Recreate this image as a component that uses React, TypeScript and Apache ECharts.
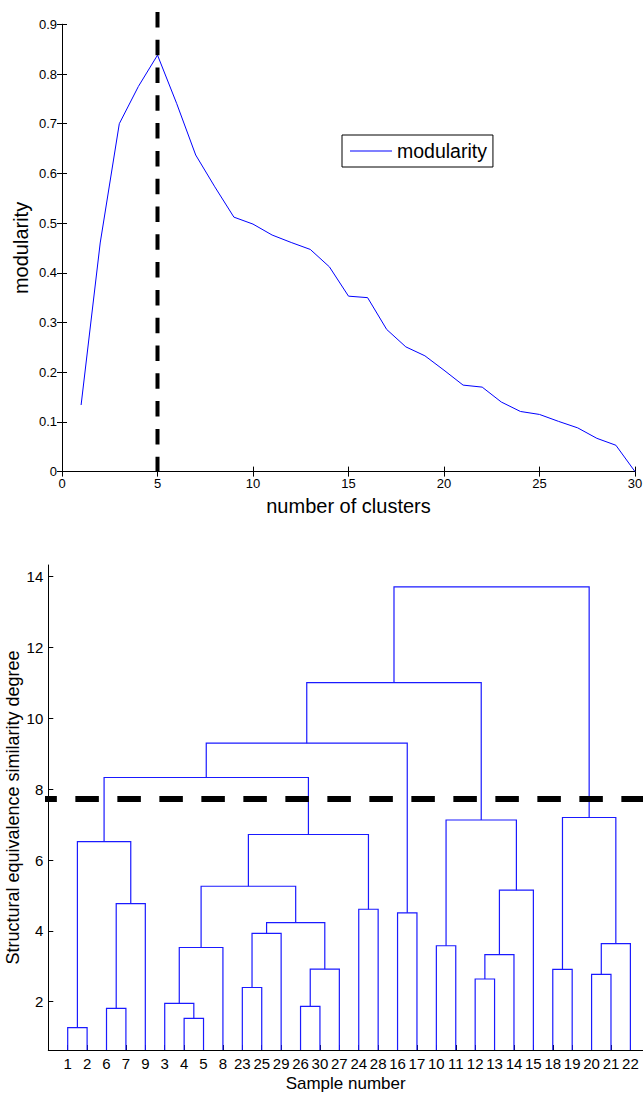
import React, { useEffect, useRef } from "react";
import * as echarts from "echarts";

const FONT = "'Liberation Sans', Arial, Helvetica, sans-serif";

// ---- Top chart: modularity vs number of clusters ----
const CLUSTER_COUNTS = [
  1, 2, 3, 4, 5, 6, 7, 8, 9, 10, 11, 12, 13, 14, 15, 16, 17, 18, 19, 20, 21,
  22, 23, 24, 25, 26, 27, 28, 29, 30,
];
const MODULARITY = [
  0.134, 0.46, 0.7, 0.775, 0.838, 0.741, 0.637, 0.573, 0.512, 0.498, 0.476,
  0.461, 0.447, 0.412, 0.353, 0.35, 0.286, 0.251, 0.233, 0.204, 0.174, 0.17,
  0.14, 0.121, 0.115, 0.101, 0.088, 0.067, 0.053, 0.0,
];
const BEST_CLUSTER_COUNT = 5;
const TOP_X_TICKS = [0, 5, 10, 15, 20, 25, 30];

// ---- Bottom chart: dendrogram ----
const SAMPLE_ORDER = [
  1, 2, 6, 7, 9, 3, 4, 5, 8, 23, 25, 29, 26, 30, 27, 24, 28, 16, 17, 10, 11,
  12, 13, 14, 15, 18, 19, 20, 21, 22,
];
// linkage rows: node id = 30 + row number (1-based)
const MERGE_LEFT = [
  1, 6, 32, 31, 4, 3, 36, 23, 38, 26, 40, 39, 37, 24, 43, 34, 16, 46, 10, 12,
  50, 51, 49, 48, 18, 20, 56, 55, 54,
];
const MERGE_RIGHT = [
  2, 7, 9, 33, 5, 35, 8, 25, 29, 30, 27, 41, 42, 28, 44, 45, 17, 47, 11, 13,
  14, 15, 52, 53, 19, 21, 22, 57, 58,
];
const MERGE_HEIGHT = [
  1.27, 1.81, 4.77, 6.52, 1.53, 1.95, 3.53, 2.4, 3.93, 1.87, 2.92, 4.23, 5.26,
  4.61, 6.72, 8.33, 4.51, 9.3, 3.58, 2.64, 3.33, 5.15, 7.13, 11.01, 2.91, 2.77,
  3.64, 7.2, 13.71,
];
const CUT_LEVEL = 7.72;
const DEND_Y_TICKS = [2, 4, 6, 8, 10, 12, 14];
const DEND_Y_MIN = 0.636;
const DEND_Y_MAX = 14.33;

const N_LEAVES = SAMPLE_ORDER.length;

function buildLinks(): number[][] {
  const pos = (id: number): [number, number] => {
    if (id <= N_LEAVES) return [SAMPLE_ORDER.indexOf(id) + 1, DEND_Y_MIN];
    const r = id - N_LEAVES - 1;
    const a = pos(MERGE_LEFT[r]);
    const b = pos(MERGE_RIGHT[r]);
    return [(a[0] + b[0]) / 2, MERGE_HEIGHT[r]];
  };
  return MERGE_HEIGHT.map((h, r) => {
    const a = pos(MERGE_LEFT[r]);
    const b = pos(MERGE_RIGHT[r]);
    return [a[0], a[1], b[0], b[1], h];
  });
}

export default function App() {
  const ref = useRef<HTMLDivElement>(null);

  useEffect(() => {
    if (!ref.current) return;
    const chart = echarts.init(ref.current, undefined, { renderer: "svg" });
    const links = buildLinks();
    const leafPositions = SAMPLE_ORDER.map((_, i) => i + 1);

    const boxAxis = {
      axisLine: { show: true, lineStyle: { color: "#000", width: 1 } },
      axisTick: { show: true, inside: true, length: 5, lineStyle: { color: "#000" } },
      splitLine: { show: false },
    };

    const option: any = {
      animation: false,
      backgroundColor: "#fff",
      textStyle: { fontFamily: FONT },
      grid: [
        { left: 62, top: 24.3, width: 573, height: 447.3, outerBoundsMode: "none", containLabel: false },
        { left: 48.3, top: 565, width: 594.7, height: 485, outerBoundsMode: "none", containLabel: false },
      ],
      legend: {
        data: [{ name: "modularity", icon: "rect" }],
        left: 342,
        top: 135,
        orient: "vertical",
        padding: [6, 6, 6, 8],
        borderColor: "#000",
        borderWidth: 1,
        itemWidth: 42,
        itemHeight: 1.2,
        backgroundColor: "#fff",
        itemStyle: { color: "#0000ff" },
        textStyle: { fontFamily: FONT, fontSize: 19.5, color: "#000" },
      },
      xAxis: [
        {
          gridIndex: 0,
          type: "value",
          position: "bottom",
          min: 0,
          max: 30,
          interval: 5,
          ...boxAxis,
          axisLabel: {
            show: true,
            margin: 5,
            fontSize: 13,
            color: "#000",
            showMinLabel: true,
            showMaxLabel: true,
            customValues: TOP_X_TICKS,
          },
          name: "number of clusters",
          nameLocation: "middle",
          nameGap: 24,
          nameMoveOverlap: false,
          nameTextStyle: { fontSize: 20, color: "#000", fontFamily: FONT },
        },
        {
          gridIndex: 0,
          type: "value",
          position: "top",
          min: 0,
          max: 30,
          interval: 5,
          ...boxAxis,
          axisLabel: { show: false },
        },
        {
          gridIndex: 1,
          type: "value",
          position: "bottom",
          min: 0,
          max: 30.65,
          axisLine: { show: true, onZero: false, lineStyle: { color: "#000", width: 1 } },
          axisTick: {
            show: true,
            inside: true,
            length: 5,
            customValues: leafPositions,
            lineStyle: { color: "#000" },
          },
          splitLine: { show: false },
          axisLabel: {
            show: true,
            margin: 6,
            fontSize: 15,
            color: "#000",
            customValues: leafPositions,
            formatter: (v: number) => String(SAMPLE_ORDER[Math.round(v) - 1]),
          },
          name: "Sample number",
          nameLocation: "middle",
          nameGap: 25,
          nameMoveOverlap: false,
          nameTextStyle: { fontSize: 17, color: "#000", fontFamily: FONT },
        },
      ],
      yAxis: [
        {
          gridIndex: 0,
          type: "value",
          position: "left",
          min: 0,
          max: 0.9,
          interval: 0.1,
          ...boxAxis,
          axisLabel: {
            show: true,
            margin: 5,
            fontSize: 13,
            color: "#000",
            showMinLabel: true,
            showMaxLabel: true,
            formatter: (v: number) => String(Math.round(v * 10) / 10),
          },
          name: "modularity",
          nameLocation: "middle",
          nameGap: 31,
          nameMoveOverlap: false,
          nameTextStyle: { fontSize: 20, color: "#000", fontFamily: FONT },
        },
        {
          gridIndex: 0,
          type: "value",
          position: "right",
          min: 0,
          max: 0.9,
          interval: 0.1,
          ...boxAxis,
          axisLabel: { show: false },
        },
        {
          gridIndex: 1,
          type: "value",
          position: "left",
          min: DEND_Y_MIN,
          max: DEND_Y_MAX,
          axisLine: { show: true, onZero: false, lineStyle: { color: "#000", width: 1 } },
          axisTick: {
            show: true,
            inside: true,
            length: 5,
            customValues: DEND_Y_TICKS,
            lineStyle: { color: "#000" },
          },
          splitLine: { show: false },
          axisLabel: {
            show: true,
            margin: 5,
            fontSize: 15,
            color: "#000",
            customValues: DEND_Y_TICKS,
          },
          name: "Structural equivalence similarity degree",
          nameLocation: "middle",
          nameGap: 26,
          nameMoveOverlap: false,
          nameTextStyle: { fontSize: 18, color: "#000", fontFamily: FONT },
        },
      ],
      series: [
        {
          name: "modularity",
          type: "line",
          xAxisIndex: 0,
          yAxisIndex: 0,
          data: CLUSTER_COUNTS.map((c, i) => [c, MODULARITY[i]]),
          symbol: "none",
          showSymbol: false,
          lineStyle: { color: "#0000ff", width: 1 },
          itemStyle: { color: "#0000ff" },
          z: 2,
        },
        {
          name: "best",
          type: "line",
          xAxisIndex: 0,
          yAxisIndex: 0,
          data: [
            [BEST_CLUSTER_COUNT, 0.925],
            [BEST_CLUSTER_COUNT, 0],
          ],
          symbol: "none",
          clip: false,
          silent: true,
          lineStyle: { color: "#000", width: 4, type: [15.5, 12.3] },
          z: 3,
        },
        {
          name: "dendrogram",
          type: "custom",
          xAxisIndex: 2,
          yAxisIndex: 2,
          clip: true,
          silent: true,
          data: links,
          encode: { x: [0, 2], y: [1, 3, 4] },
          renderItem: (params: any, api: any) => {
            const x1 = api.value(0);
            const h1 = api.value(1);
            const x2 = api.value(2);
            const h2 = api.value(3);
            const h = api.value(4);
            return {
              type: "polyline",
              shape: {
                points: [
                  api.coord([x1, h1]),
                  api.coord([x1, h]),
                  api.coord([x2, h]),
                  api.coord([x2, h2]),
                ],
              },
              style: { stroke: "#1a1aff", lineWidth: 1.2, fill: null },
            };
          },
          z: 2,
        },
        {
          name: "cut",
          type: "line",
          xAxisIndex: 2,
          yAxisIndex: 2,
          data: [
            [-0.77, CUT_LEVEL],
            [30.9, CUT_LEVEL],
          ],
          symbol: "none",
          clip: false,
          silent: true,
          lineStyle: { color: "#000", width: 6, type: [23.5, 18.5] },
          z: 3,
        },
      ],
    };

    chart.setOption(option);
    return () => chart.dispose();
  }, []);

  return (
    <div
      ref={ref}
      style={{
        position: "fixed",
        left: 0,
        top: 0,
        width: 643,
        height: 1095,
        background: "#fff",
      }}
    />
  );
}
